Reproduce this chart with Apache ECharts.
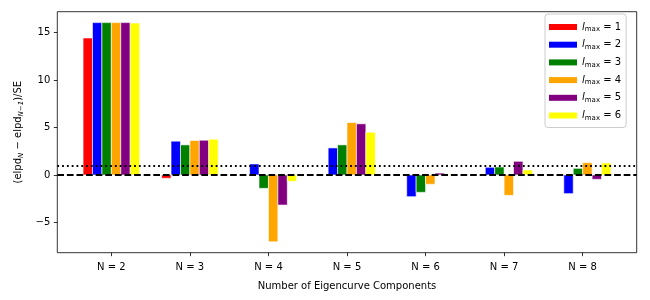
<!DOCTYPE html>
<html>
<head>
<meta charset="utf-8">
<script src="https://cdn.jsdelivr.net/npm/echarts@6/dist/echarts.min.js"></script>
<style>html,body{margin:0;padding:0;background:#fff}#c{width:650px;height:300px}</style>
</head>
<body>
<div id="c"></div>
<script>
const categories = ['N = 2', 'N = 3', 'N = 4', 'N = 5', 'N = 6', 'N = 7', 'N = 8'];
const lmax1 = [14.43, -0.35, 0, 0, 0, 0, 0];
const lmax2 = [16.05, 3.56, 1.16, 2.85, -2.29, 0.81, -1.97];
const lmax3 = [16.05, 3.17, -1.41, 3.17, -1.83, 0.84, 0.70];
const lmax4 = [16.05, 3.63, -7.04, 5.52, -0.98, -2.15, 1.30];
const lmax5 = [16.05, 3.66, -3.17, 5.39, 0.20, 1.44, -0.46];
const lmax6 = [16.00, 3.77, -0.67, 4.50, 0.05, 0.53, 1.27];
const yTicks = [-5, 0, 5, 10, 15];
const seriesNames = ['1', '2', '3', '4', '5', '6'];
const seriesValues = [lmax1, lmax2, lmax3, lmax4, lmax5, lmax6];
const colors = ['#ff0000', '#0000ff', '#008000', '#ffa500', '#800080', '#ffff00'];

const BW = 0.12;
const FONT = 'DejaVu Sans';

function barRender(params, api) {
  const x = api.value(0), y = api.value(1);
  const p1 = api.coord([x - BW / 2, y]);
  const p2 = api.coord([x + BW / 2, 0]);
  const top = Math.min(p1[1], p2[1]);
  const h = Math.abs(p2[1] - p1[1]);
  return {
    type: 'rect',
    shape: { x: p1[0], y: top, width: p2[0] - p1[0], height: h },
    style: { fill: api.visual('color'), stroke: '#ffffff', lineWidth: 0.6 }
  };
}

const series = seriesValues.map((vals, j) => ({
  name: seriesNames[j],
  type: 'custom',
  renderItem: barRender,
  itemStyle: { color: colors[j] },
  encode: { x: 0, y: 1 },
  data: vals.map((v, k) => [k + (j - 2.5) * BW, v]),
  z: 2
}));

series.push({
  type: 'line',
  data: [],
  z: 10,
  silent: true,
  markLine: {
    symbol: ['none', 'none'],
    silent: true,
    label: { show: false },
    animation: false,
    data: [
      { yAxis: 0, lineStyle: { color: '#000', width: 1.8, type: [6.7, 2.9] } },
      { yAxis: 1, lineStyle: { color: '#000', width: 1.8, type: [1.8, 3] } }
    ]
  }
});

const chart = echarts.init(document.getElementById('c'), null, { renderer: 'canvas' });
chart.setOption({
  animation: false,
  backgroundColor: '#fff',
  textStyle: { fontFamily: FONT },
  grid: { left: 57.3, right: 13.3, top: 11.7, bottom: 47.3, show: true, borderColor: '#000', borderWidth: 0.8, backgroundColor: 'transparent', containLabel: false },
  legend: {
    orient: 'vertical',
    left: 545, top: 14,
    padding: [7, 5, 6, 4],
    itemWidth: 28, itemHeight: 6, itemGap: 5.7,
    icon: 'rect',
    backgroundColor: 'rgba(255,255,255,0.8)',
    borderColor: '#cccccc', borderWidth: 1, borderRadius: 3,
    data: seriesNames,
    formatter: n => '{it|l}{sub|max}{n| = ' + n + '}',
    textStyle: {
      fontFamily: FONT, fontSize: 10, color: '#000', lineHeight: 12,
      rich: {
        it: { fontFamily: FONT, fontSize: 10, fontStyle: 'italic', color: '#000' },
        sub: { fontFamily: FONT, fontSize: 7, color: '#000', padding: [5, 0, 0, 0] },
        n: { fontFamily: FONT, fontSize: 10, color: '#000' }
      }
    }
  },
  xAxis: {
    type: 'value',
    min: -0.688, max: 6.688,
    splitLine: { show: false },
    axisLine: { show: false, onZero: false },
    axisTick: { show: true, length: 3.5, lineStyle: { color: '#000', width: 0.8 }, customValues: [0, 1, 2, 3, 4, 5, 6] },
    axisLabel: { customValues: [0, 1, 2, 3, 4, 5, 6], formatter: v => categories[Math.round(v)], color: '#000', fontSize: 10, fontFamily: FONT, margin: 10 },
    name: 'Number of Eigencurve Components',
    nameLocation: 'middle', nameGap: 29,
    nameTextStyle: { color: '#000', fontSize: 10, fontFamily: FONT }
  },
  yAxis: {
    type: 'value',
    min: -8.19, max: 17.2,
    splitLine: { show: false },
    axisLine: { show: false, onZero: false },
    axisTick: { show: true, length: 3.5, lineStyle: { color: '#000', width: 0.8 }, customValues: yTicks },
    axisLabel: { customValues: yTicks, formatter: v => (v < 0 ? '\u2212' + Math.abs(v) : String(v)), color: '#000', fontSize: 10, fontFamily: FONT, margin: 7 },
    name: '(elpd{sub|N} \u2212 elpd{sub|N\u22121})/SE',
    nameLocation: 'middle', nameGap: 31, nameRotate: 90,
    nameTextStyle: {
      color: '#000', fontSize: 10, fontFamily: FONT,
      rich: {
        sub: { fontFamily: FONT, fontSize: 7, fontStyle: 'italic', color: '#000', padding: [5, 0, 0, 0] }
      }
    }
  },
  series: series
});
</script>
</body>
</html>
